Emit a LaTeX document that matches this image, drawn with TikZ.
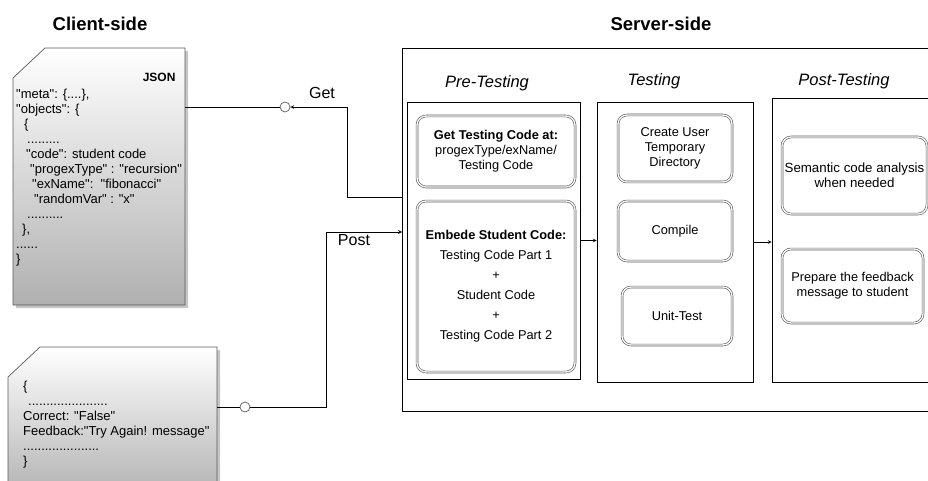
\documentclass[tikz,border=0pt]{standalone}
\usepackage{fontspec}
\setmainfont{Liberation Sans}[Ligatures=TeXOff]
\usepackage{xcolor}
\definecolor{docgray}{RGB}{176,176,176}
\definecolor{edgegray}{RGB}{90,90,90}

\begin{document}
\begin{tikzpicture}[x=1pt, y=-1pt,
  title/.style={font=\bfseries\fontsize{18.5}{22}\selectfont},
  phase/.style={font=\itshape\fontsize{16.5}{20}\selectfont},
  flowlabel/.style={font=\fontsize{16}{19}\selectfont},
  phasebox/.style={rectangle, draw=black, line width=0.7pt, fill=white, inner sep=0pt},
  stepbox/.style={rectangle, rounded corners=9pt, draw=edgegray, line width=0.6pt, double=white, double distance=1.3pt, fill=white, align=center, inner sep=1pt, font=\fontsize{12.8}{15}\selectfont},
  doctext/.style={anchor=north west, align=left, inner sep=0pt, font=\fontsize{13}{15}\selectfont},
  port/.style={circle, draw=edgegray, fill=white, line width=0.7pt, minimum size=10pt, inner sep=0pt},
  arrow/.style={->, line width=0.7pt, black, >=stealth}
]
\useasboundingbox (0,0) rectangle (928,481);
\clip (0,0) rectangle (928,481);

% titles
\node[title] (client) at (100,24) {Client-side};
\node[title] (serverlbl) at (661,24) {Server-side};

% client documents
\fill[gray!45] (16,81) -- (48,51) -- (188,51) -- (188,308) -- (16,308) -- cycle;
\shade[top color=white, bottom color=docgray] (13,78) -- (45,48) -- (185,48) -- (185,305) -- (13,305) -- cycle;
\draw[edgegray, line width=0.7pt] (13,78) -- (45,48) -- (185,48) -- (185,305) -- (13,305) -- cycle;
\node[font=\bfseries\fontsize{12}{14}\selectfont, anchor=east] (jsonlbl) at (179,77) {JSON};
\node[doctext] (jsontext) at (16,89) {%
"meta": \{....\},\\
"objects": \{\\
\hspace*{8pt}\{\\
\hspace*{11pt}.........\\
\hspace*{10pt}"code": student code\\
\hspace*{14pt}"progexType" : "recursion"\\
\hspace*{16pt}"exName":\ \ "fibonacci"\\
\hspace*{18pt}"randomVar" : "x"\\
\hspace*{11pt}..........\\
\hspace*{6pt}\},\\
......\\
\}};
\coordinate (jsonout) at (185,107);

\fill[gray!45] (11,380) -- (43,350) -- (220,350) -- (220,500) -- (11,500) -- cycle;
\shade[top color=white, bottom color=docgray] (8,377) -- (40,347) -- (217,347) -- (217,500) -- (8,500) -- cycle;
\draw[edgegray, line width=0.7pt] (8,377) -- (40,347) -- (217,347) -- (217,500) -- (8,500) -- cycle;
\node[doctext] (fbtext) at (23,381) {%
\{\\
\hspace*{5pt}......................\\
Correct: "False"\\
Feedback:"Try Again! message"\\
.....................\\
\}};
\coordinate (fbout) at (217,407);

% server side
\node[phasebox, minimum width=540pt, minimum height=363pt] (server) at (672,229.5) {};
\node[phase] (prelbl) at (487,83) {Pre-Testing};
\node[phase] (testlbl) at (654,81) {Testing};
\node[phase] (postlbl) at (844,81) {Post-Testing};

\node[phasebox, minimum width=173pt, minimum height=277pt] (pre) at (493.5,240.5) {};
\node[phasebox, minimum width=156pt, minimum height=280pt] (test) at (675,242) {};
\node[phasebox, minimum width=180pt, minimum height=284pt] (post) at (862,240) {};

\node[stepbox, minimum width=158pt, minimum height=71pt] (getcode) at (496,151.5) {\textbf{Get Testing Code at:}\\progexType/exName/\\Testing Code};
\node[stepbox, minimum width=158pt, minimum height=171pt, font=\fontsize{12.8}{20}\selectfont] (embed) at (496,286.5) {\textbf{Embede Student Code:}\\Testing Code Part 1\\+\\Student Code\\+\\Testing Code Part 2};

\node[stepbox, minimum width=114pt, minimum height=67pt] (mkdir) at (675,148.5) {Create User\\Temporary\\Directory};
\node[stepbox, minimum width=114pt, minimum height=60pt] (compile) at (675,231) {Compile};
\node[stepbox, minimum width=110pt, minimum height=58pt] (unittest) at (677,316) {Unit-Test};

\node[stepbox, minimum width=145pt, minimum height=77pt, font=\fontsize{13.3}{15}\selectfont] (semantic) at (854.5,175.5) {Semantic code analysis\\when needed};
\node[stepbox, minimum width=141pt, minimum height=74pt] (feedback) at (852.5,286) {Prepare the feedback\\message to student};

% get / post
\node[port] (getport) at (285,107) {};
\node[port] (postport) at (245,407) {};
\node[flowlabel] (getlbl) at (322,93) {Get};
\node[flowlabel] (postlbl) at (354,240) {Post};
\coordinate (getout) at (402,197);
\coordinate (postin) at (402,232);

\draw[line width=0.7pt] (jsonout) -- (getport);
\draw[arrow] (getout) -- (347,197) -- (347,107) -- (getport);
\draw[line width=0.7pt] (fbout) -- (postport);
\draw[arrow] (postport) -- (326,407) -- (326,232) -- (postin);

\draw[arrow] (pre.east) -- (pre.east -| test.west);
\draw[arrow] (test.east) -- (test.east -| post.west);
\end{tikzpicture}
\end{document}
